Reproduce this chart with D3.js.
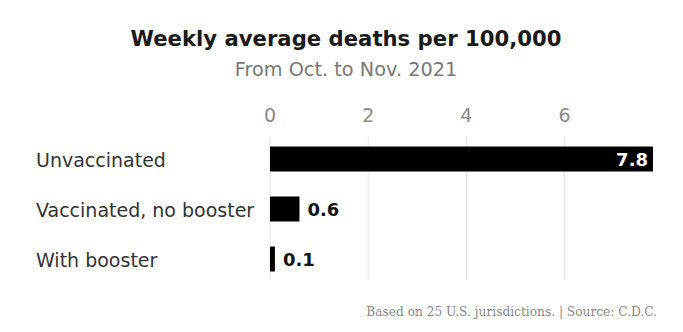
<!DOCTYPE html>
<html>
<head>
<meta charset="utf-8">
<script src="https://cdn.jsdelivr.net/npm/d3@7"></script>
<style>
  html, body { margin: 0; padding: 0; background: #fff; }
  svg { display: block; }
</style>
</head>
<body>
<svg id="chart" width="683" height="332"></svg>
<script>
// Weekly average deaths per 100,000 by vaccination status
const categories = ["Unvaccinated", "Vaccinated, no booster", "With booster"];
const values = [7.8, 0.6, 0.1];
const valueLabels = ["7.8", "0.6", "0.1"];
const tickValues = [0, 2, 4, 6];

const svg = d3.select("#chart");
const sans = "'DejaVu Sans', Verdana, sans-serif";

const x = d3.scaleLinear().domain([0, 7.8]).range([270, 653]);
const y = d3.scaleBand().domain(categories).range([134, 284]).paddingInner(0.5).paddingOuter(0.25);

// Title block
svg.append("text")
  .attr("x", 346).attr("y", 46)
  .attr("text-anchor", "middle")
  .attr("font-family", sans).attr("font-weight", "bold")
  .attr("font-size", 21.2).attr("fill", "#1a1a1a")
  .text("Weekly average deaths per 100,000");

svg.append("text")
  .attr("x", 346).attr("y", 76)
  .attr("text-anchor", "middle")
  .attr("font-family", sans)
  .attr("font-size", 19.3).attr("fill", "#777")
  .text("From Oct. to Nov. 2021");

// Gridlines and tick labels
const axis = svg.append("g");
axis.selectAll("line").data(tickValues).join("line")
  .attr("x1", d => x(d)).attr("x2", d => x(d))
  .attr("y1", 137).attr("y2", 280)
  .attr("stroke", "#e2e2e2").attr("stroke-width", 1);

axis.selectAll("text").data(tickValues).join("text")
  .attr("x", d => x(d)).attr("y", 122)
  .attr("text-anchor", "middle")
  .attr("font-family", sans).attr("font-size", 19)
  .attr("fill", "#8a8a8a")
  .text(d => d);

// Bars
svg.append("g").selectAll("rect").data(values).join("rect")
  .attr("x", x(0))
  .attr("y", (d, i) => y(categories[i]))
  .attr("width", d => x(d) - x(0))
  .attr("height", y.bandwidth())
  .attr("fill", "#000");

// Category labels
svg.append("g").selectAll("text").data(categories).join("text")
  .attr("x", 36)
  .attr("y", d => y(d) + y.bandwidth() / 2 + 7.5)
  .attr("font-family", sans).attr("font-size", 19)
  .attr("fill", "#333")
  .text(d => d);

// Value labels: inside the long bar, outside the short ones
svg.append("g").selectAll("text").data(values).join("text")
  .attr("x", (d, i) => i === 0 ? x(d) - 5 : x(d) + 8)
  .attr("y", (d, i) => y(categories[i]) + y.bandwidth() / 2 + 7)
  .attr("text-anchor", (d, i) => i === 0 ? "end" : "start")
  .attr("font-family", sans).attr("font-weight", "bold").attr("font-size", 18)
  .attr("fill", (d, i) => i === 0 ? "#fff" : "#121212")
  .text((d, i) => valueLabels[i]);

// Source note
svg.append("text")
  .attr("x", 657).attr("y", 316)
  .attr("text-anchor", "end")
  .attr("font-family", "'DejaVu Serif', Georgia, serif")
  .attr("font-size", 12.2).attr("fill", "#888")
  .text("Based on 25 U.S. jurisdictions. | Source: C.D.C.");
</script>
</body>
</html>
